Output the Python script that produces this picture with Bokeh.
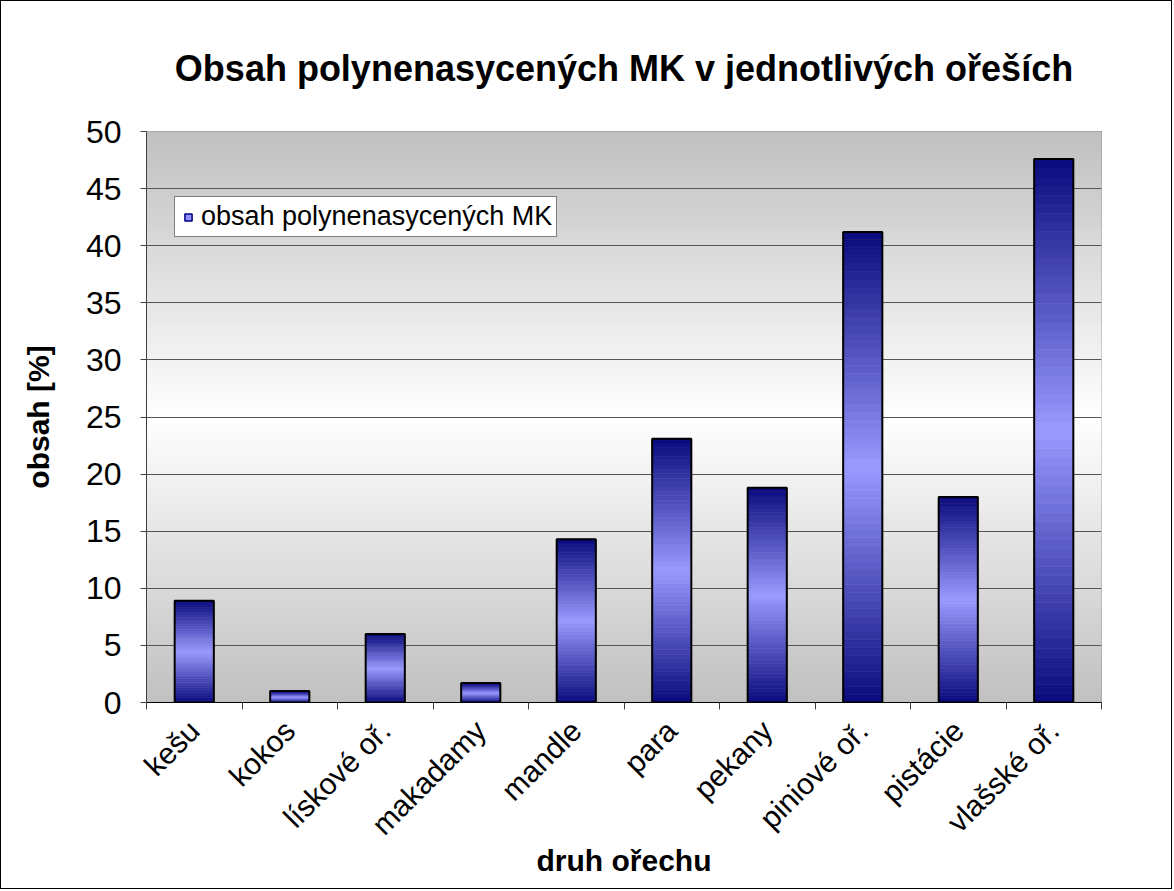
import numpy as np
from bokeh.plotting import figure
from bokeh.models import FixedTicker, Legend, LegendItem
from bokeh.embed import file_html
from bokeh.resources import INLINE

# ---- data ----
categories = ["kešu", "kokos", "lískové oř.", "makadamy", "mandle", "para",
              "pekany", "piniové oř.", "pistácie", "vlašské oř."]
values = [8.9, 1.0, 6.0, 1.7, 14.3, 23.1, 18.8, 41.2, 18.0, 47.6]
y_ticks = [0, 5, 10, 15, 20, 25, 30, 35, 40, 45, 50]

title_text = "Obsah polynenasycených MK v jednotlivých ořeších"
series_name = "obsah polynenasycených MK"
x_title = "druh ořechu"
y_title = "obsah [%]"

FONT = "Liberation Sans"

n = len(categories)
centers = [i + 0.5 for i in range(n)]
bar_w = 0.41

p = figure(width=1172, height=889, x_range=(0, n), y_range=(0, 50),
           output_backend="svg", toolbar_location=None, title=title_text,
           min_border_left=145, min_border_right=72, min_border_top=130,
           min_border_bottom=188)
p.styles = {"border": "1px solid black"}
p.background_fill_color = "#c0c0c0"
p.border_fill_color = "white"
p.outline_line_color = "#808080"

# ---- background gradient (gray -> white -> gray) ----
NB = 120
ys = np.linspace(0, 50, NB + 1)
bg_cols = []
for i in range(NB):
    t = (i + 0.5) / NB
    f = 1 - abs(2 * t - 1)
    c = int(round(192 + (255 - 192) * f))
    bg_cols.append("#%02x%02x%02x" % (c, c, c))
p.quad(left=0, right=n, bottom=ys[:-1], top=ys[1:], fill_color=bg_cols,
       line_color=bg_cols, line_width=1, level="image")

# ---- bars with vertical gradient (dark -> light -> dark) ----
dark = np.array([10, 10, 125])
light = np.array([153, 153, 255])
NS = 60
L, R, B, T, C = [], [], [], [], []
for xc, v in zip(centers, values):
    edges = np.linspace(0, v, NS + 1)
    for k in range(NS):
        t = (k + 0.5) / NS
        f = 1 - abs(2 * t - 1)
        col = dark + (light - dark) * f
        L.append(xc - bar_w / 2)
        R.append(xc + bar_w / 2)
        B.append(edges[k])
        T.append(edges[k + 1])
        C.append("#%02x%02x%02x" % tuple(int(round(c)) for c in col))
p.quad(left=L, right=R, bottom=B, top=T, fill_color=C, line_color=C, line_width=0.6)
p.vbar(x=centers, top=values, width=bar_w, fill_alpha=0, line_color="black", line_width=2)

# ---- legend ----
dummy = p.scatter(x=[float("nan")], y=[float("nan")], marker="square", size=12,
                  fill_color="#8f8fff", line_color="#000080", line_width=1.5)
legend = Legend(items=[LegendItem(label=series_name, renderers=[dummy])],
                location=(28, 465), border_line_color="black", border_line_width=1,
                background_fill_color="white", background_fill_alpha=1,
                label_text_font=FONT, label_text_font_size="27px",
                label_text_color="black",
                glyph_width=18, glyph_height=18, padding=4, margin=0,
                label_standoff=4, label_height=30)
p.add_layout(legend)

# ---- title ----
p.title.text_font = FONT
p.title.text_font_size = "36px"
p.title.text_font_style = "bold"
p.title.text_color = "black"
p.title.align = "center"
p.title.vertical_align = "bottom"
p.title.standoff = 86

# ---- y axis ----
p.yaxis.ticker = FixedTicker(ticks=y_ticks)
p.yaxis.major_tick_in = 0
p.yaxis.major_tick_out = 6
p.yaxis.minor_tick_line_color = None
p.yaxis.axis_line_color = "#404040"
p.yaxis.major_tick_line_color = "#404040"
p.yaxis.major_label_text_font = FONT
p.yaxis.major_label_text_font_size = "32px"
p.yaxis.major_label_text_color = "black"
p.yaxis.major_label_standoff = 19
p.yaxis.axis_label = y_title
p.yaxis.axis_label_text_font = FONT
p.yaxis.axis_label_text_font_size = "30px"
p.yaxis.axis_label_text_font_style = "bold"
p.yaxis.axis_label_text_color = "black"
p.yaxis.axis_label_standoff = 28

# ---- x axis ----
p.xaxis.ticker = FixedTicker(ticks=centers, minor_ticks=list(range(n + 1)))
p.xaxis.major_label_overrides = {c: lab for c, lab in zip(centers, categories)}
p.xaxis.major_tick_in = 0
p.xaxis.major_tick_out = 0
p.xaxis.minor_tick_in = 0
p.xaxis.minor_tick_out = 7
p.xaxis.minor_tick_line_color = "#404040"
p.xaxis.axis_line_color = "black"
p.xaxis.major_label_orientation = np.pi / 4
p.xaxis.major_label_text_font = FONT
p.xaxis.major_label_text_font_size = "30px"
p.xaxis.major_label_text_color = "black"
p.xaxis.major_label_standoff = 16
p.xaxis.axis_label = x_title
p.xaxis.axis_label_text_font = FONT
p.xaxis.axis_label_text_font_size = "30px"
p.xaxis.axis_label_text_font_style = "bold"
p.xaxis.axis_label_text_color = "black"
p.xaxis.axis_label_standoff = -12

# ---- grid ----
p.xgrid.visible = False
p.ygrid.grid_line_color = "#555555"
p.ygrid.grid_line_width = 1

open("out.html", "w").write(file_html(p, INLINE))
